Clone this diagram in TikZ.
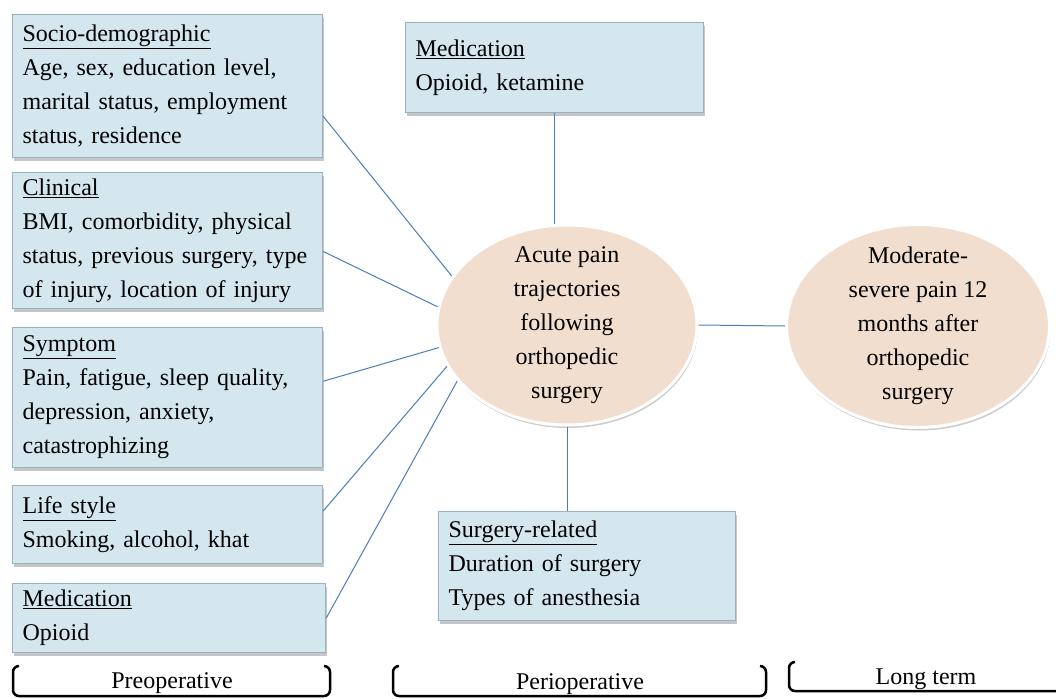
\documentclass[tikz,border=0pt]{standalone}
\usepackage{fontspec}
\setmainfont{Liberation Serif}
\usetikzlibrary{shapes.geometric,shadows}
\definecolor{boxblue}{RGB}{213,231,238}
\definecolor{boxedge}{RGB}{150,178,195}
\definecolor{peach}{RGB}{242,222,206}
\definecolor{linkblue}{RGB}{74,126,187}
\tikzset{
  factor/.style n args={2}{draw=boxedge, line width=1.2pt, fill=boxblue,
    anchor=north west, inner xsep=10pt, inner ysep=0pt, align=left,
    text width=#1, minimum height=#2,
    font=\fontsize{24}{34}\selectfont,
    drop shadow={opacity=0.45, shadow xshift=1pt, shadow yshift=-3pt}},
  outcome/.style={ellipse, draw=white, line width=3pt, fill=peach,
    drop shadow={opacity=0.4, shadow xshift=1pt, shadow yshift=-3pt}},
  outtext/.style={align=center, font=\fontsize{24}{34}\selectfont},
  link/.style={draw=linkblue, line width=1pt},
  phasebrace/.style={line width=2.5pt, rounded corners=6pt},
  phase/.style={font=\fontsize{24}{28}\selectfont}
}
\begin{document}
\begin{tikzpicture}[x=1pt,y=-1pt]
\useasboundingbox (0,0) rectangle (1056,698);

% preoperative factors
\node[factor={290pt}{143pt}] (socio) at (12,14)
  {\underline{Socio-demographic}\\Age, sex, education level,\\marital status, employment\\status, residence};
\node[factor={290pt}{136pt}] (clinic) at (12,172)
  {\underline{Clinical}\\BMI, comorbidity, physical\\status, previous surgery, type\\of injury, location of injury};
\node[factor={290pt}{140pt}] (symptom) at (12,327)
  {\underline{Symptom}\\Pain, fatigue, sleep quality,\\depression, anxiety,\\catastrophizing};
\node[factor={290pt}{78pt}] (life) at (12,485)
  {\underline{Life style}\\Smoking, alcohol, khat};
\node[factor={293pt}{69pt}] (medL) at (12,583)
  {\underline{Medication}\\Opioid};

% perioperative factors
\node[factor={278pt}{90pt}] (medT) at (405,22)
  {\underline{Medication}\\Opioid, ketamine};
\node[factor={277pt}{109pt}] (surg) at (438,511)
  {\underline{Surgery-related}\\Duration of surgery\\Types of anesthesia};

% outcomes
\node[outcome, minimum width=260pt, minimum height=200pt] (acute) at (567,325) {};
\node[outtext] (acutetext) at (acute.center)
  {Acute pain\\trajectories\\following\\orthopedic\\surgery};
\node[outcome, minimum width=263pt, minimum height=203pt] (chronic) at (918,326) {};
\node[outtext] (chronictext) at (chronic.center)
  {Moderate-\\severe pain 12\\months after\\orthopedic\\surgery};

% links
\draw[link] (socio.-11.8) -- (acute.157);
\draw[link] (clinic.-4.4) -- (acute.172);
\draw[link] (symptom.6.3) -- (acute.-170);
\draw[link] (life.5.2) -- (acute.-161);
\draw[link] (medL.east) -- (acute.-153);
\draw[link] (medT.south) -- (medT.south |- acute.north);
\draw[link] (acute.south) -- (acute.south |- surg.north);
\draw[link] (acute.east) -- (chronic.west);

% phases
\draw[phasebrace] (19,666) -- (13,666) -- (13,696) -- (330,696) -- (330,666) -- (324,666);
\node[phase] (preop) at (172,683) {Preoperative};
\draw[phasebrace] (399,666) -- (393,666) -- (393,696) -- (766,696) -- (766,666) -- (760,666);
\node[phase] (periop) at (580,684) {Perioperative};
\draw[phasebrace] (795,662) -- (789,662) -- (789,691) -- (1060,691);
\node[phase] (longterm) at (926,679) {Long term};
\end{tikzpicture}
\end{document}
